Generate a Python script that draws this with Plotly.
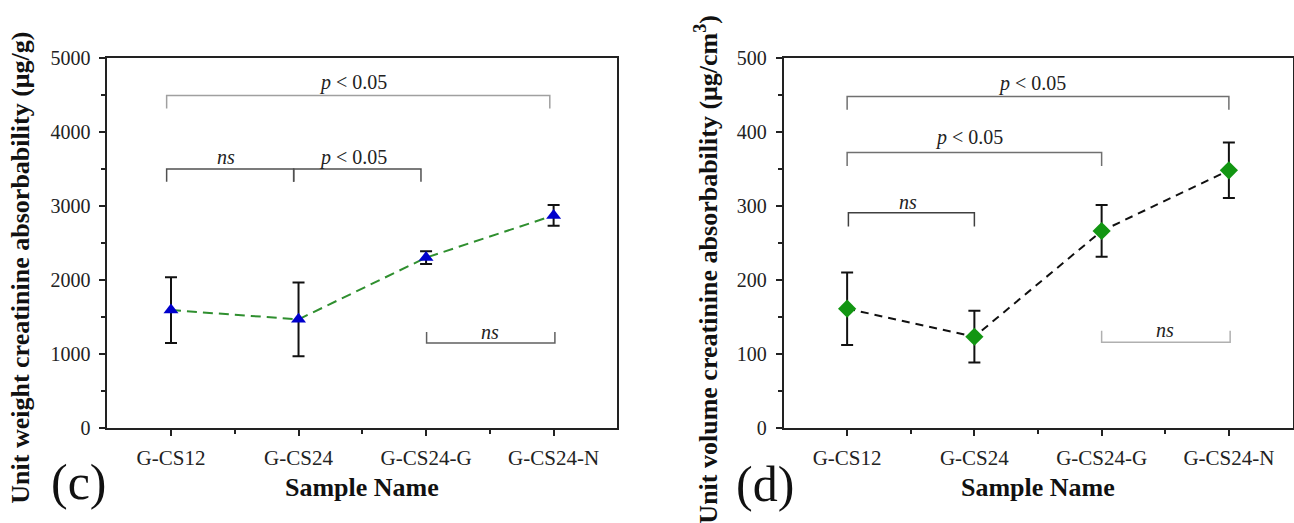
import plotly.graph_objects as go

# ---------------- data ----------------
samples = ["G-CS12", "G-CS24", "G-CS24-G", "G-CS24-N"]
xpos = [0, 1, 2, 3]

weight_mean = [1590, 1465, 2300, 2870]
weight_err = [443, 500, 87, 140]

volume_mean = [161, 123, 266, 348]
volume_err = [49, 35, 35, 37.5]

# significance brackets: start, end, level, end-tip level, label, label x, label y
c_br_x0 = [-0.034, -0.034, 0.962, 2.004]
c_br_x1 = [2.97, 0.962, 1.96, 3.01]
c_br_y = [4491, 3497, 3497, 1144]
c_br_tip = [4318, 3325, 3325, 1295]
c_br_lab = ["<i>p</i> < 0.05", "<i>ns</i>", "<i>p</i> < 0.05", "<i>ns</i>"]
c_lab_x = [1.425, 0.43, 1.425, 2.50]
c_lab_y = [4663, 3657, 3657, 1300]
c_br_col = ["#a0a0a0", "#505050", "#505050", "#606060"]

d_br_x0 = [0.0, 0.0, 0.01, 2.0]
d_br_x1 = [3.0, 2.0, 1.0, 3.01]
d_br_y = [448, 372, 290.5, 115.5]
d_br_tip = [430, 354, 272, 131]
d_br_lab = ["<i>p</i> < 0.05", "<i>p</i> < 0.05", "<i>ns</i>", "<i>ns</i>"]
d_lab_x = [1.456, 0.957, 0.48, 2.50]
d_lab_y = [466, 393, 305.5, 132]
d_br_col = ["#707070", "#707070", "#404040", "#b0b0b0"]

SERIF = "Liberation Serif, Times New Roman, serif"
W, H = 1294, 523

fig = go.Figure()

fig.add_trace(go.Scatter(
    x=xpos, y=weight_mean, mode="lines+markers",
    line=dict(color="#2f8f2f", width=2, dash="10px,6px"),
    marker=dict(symbol="triangle-up", size=13, color="#0000cc"),
    error_y=dict(type="data", array=weight_err, visible=True,
                 color="#111111", thickness=2, width=6),
    xaxis="x", yaxis="y", showlegend=False))

fig.add_trace(go.Scatter(
    x=xpos, y=volume_mean, mode="lines+markers",
    line=dict(color="#111111", width=2, dash="8px,6px"),
    marker=dict(symbol="diamond", size=14, color="#129612"),
    error_y=dict(type="data", array=volume_err, visible=True,
                 color="#111111", thickness=2, width=6),
    xaxis="x2", yaxis="y2", showlegend=False))

shapes = []
annotations = []

def add_brackets(x0s, x1s, ys, tips, labs, lx, ly, cols, xr, yr):
    for a, b, y, t, lab, tx, ty, c in zip(x0s, x1s, ys, tips, labs, lx, ly, cols):
        shapes.append(dict(type="path", xref=xr, yref=yr,
                           path=f"M {a},{t} L {a},{y} L {b},{y} L {b},{t}",
                           line=dict(color=c, width=1.5)))
        annotations.append(dict(x=tx, y=ty, xref=xr, yref=yr, text=lab,
                                showarrow=False, xanchor="center", yanchor="middle",
                                font=dict(family=SERIF, size=20, color="#222222")))

add_brackets(c_br_x0, c_br_x1, c_br_y, c_br_tip, c_br_lab, c_lab_x, c_lab_y, c_br_col, "x", "y")
add_brackets(d_br_x0, d_br_x1, d_br_y, d_br_tip, d_br_lab, d_lab_x, d_lab_y, d_br_col, "x2", "y2")

def px(xp):
    return xp / W

def py(yp):
    return (H - yp) / H

# axis titles & panel labels
title_font = dict(family=SERIF, size=26, color="#111111")
annotations += [
    dict(x=px(21), y=py(268), xref="paper", yref="paper", textangle=-90,
         text="<b>Unit weight creatinine absorbability (μg/g)</b>", showarrow=False,
         xanchor="center", yanchor="middle", font=title_font),
    dict(x=px(707), y=py(270), xref="paper", yref="paper", textangle=-90,
         text="<b>Unit volume creatinine absorbability (μg/cm<sup>3</sup>)</b>", showarrow=False,
         xanchor="center", yanchor="middle", font=title_font),
    dict(x=px(362), y=py(497), xref="paper", yref="paper",
         text="<b>Sample Name</b>", showarrow=False,
         xanchor="center", yanchor="middle", font=title_font),
    dict(x=px(1038), y=py(497), xref="paper", yref="paper",
         text="<b>Sample Name</b>", showarrow=False,
         xanchor="center", yanchor="middle", font=title_font),
    dict(x=px(79), y=py(492), xref="paper", yref="paper",
         text="(c)", showarrow=False, xanchor="center", yanchor="middle",
         font=dict(family=SERIF, size=50, color="#111111")),
    dict(x=px(765), y=py(494), xref="paper", yref="paper",
         text="(d)", showarrow=False, xanchor="center", yanchor="middle",
         font=dict(family=SERIF, size=50, color="#111111")),
]

tickfont = dict(family=SERIF, size=21, color="#222222")
common_x = dict(range=[-0.5, 3.5], tickmode="array", tickvals=xpos, ticktext=samples,
                showline=True, linecolor="#222222", linewidth=1.6, mirror=True,
                ticks="outside", ticklen=6, tickwidth=1.5, tickcolor="#222222",
                showgrid=False, zeroline=False, tickfont=tickfont, ticklabelstandoff=4,
                minor=dict(tickmode="array", tickvals=[0.5, 1.5, 2.5], ticks="outside",
                           ticklen=4, tickwidth=1.5, tickcolor="#222222", showgrid=False))
common_y = dict(showline=True, linecolor="#222222", linewidth=1.6, mirror=True,
                ticks="outside", ticklen=6, tickwidth=1.5, tickcolor="#222222",
                showgrid=False, zeroline=False,
                tickfont=dict(family=SERIF, size=20, color="#222222"), ticklabelstandoff=5)

ydom = [py(435), py(49)]

fig.update_layout(
    width=W, height=H,
    margin=dict(l=0, r=0, t=0, b=0),
    paper_bgcolor="white", plot_bgcolor="white",
    xaxis=dict(domain=[px(107.2), px(617.4)], anchor="y", **common_x),
    yaxis=dict(domain=ydom, anchor="x", range=[0, 5000], dtick=1000,
               minor=dict(dtick=500, ticks="outside", ticklen=4, tickwidth=1.5,
                          tickcolor="#222222", showgrid=False),
               **common_y),
    xaxis2=dict(domain=[px(783.5), px(1292.5)], anchor="y2", **common_x),
    yaxis2=dict(domain=ydom, anchor="x2", range=[0, 500], dtick=100,
                minor=dict(dtick=50, ticks="outside", ticklen=4, tickwidth=1.5,
                           tickcolor="#222222", showgrid=False),
                **common_y),
    shapes=shapes,
    annotations=annotations,
)

fig.write_html("out.html")
